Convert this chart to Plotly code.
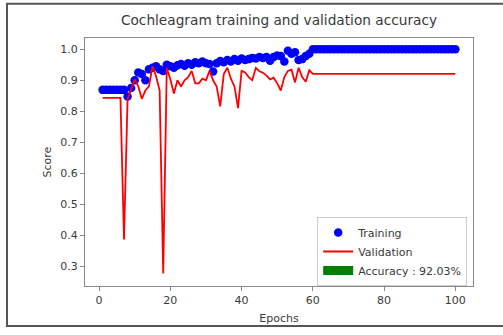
import plotly.graph_objects as go

epochs = list(range(1, 101))

training_acc = (
    [0.869] * 7
    + [0.848, 0.875, 0.900, 0.925, 0.920, 0.900, 0.935, 0.940, 0.945, 0.935,
       0.930, 0.950, 0.945, 0.940, 0.948, 0.952, 0.947, 0.955, 0.950, 0.958,
       0.955, 0.960, 0.955, 0.952, 0.928, 0.955, 0.962, 0.958, 0.965, 0.960,
       0.968, 0.963, 0.970, 0.965, 0.968, 0.972, 0.970, 0.975, 0.972, 0.975,
       0.963, 0.975, 0.980, 0.978, 0.960, 0.995, 0.985, 0.990, 0.965, 0.968,
       0.978, 0.985]
    + [1.0] * 41
)

validation_acc = (
    [0.843] * 6
    + [0.387, 0.840, 0.870, 0.903, 0.880, 0.840, 0.867, 0.880, 0.945, 0.913,
       0.867, 0.278, 0.940, 0.903, 0.857, 0.900, 0.880, 0.900, 0.910, 0.930,
       0.890, 0.890, 0.905, 0.900, 0.930, 0.900, 0.880, 0.816, 0.920, 0.940,
       0.905, 0.880, 0.810, 0.930, 0.925, 0.910, 0.900, 0.940, 0.929, 0.924,
       0.915, 0.903, 0.908, 0.890, 0.867, 0.910, 0.930, 0.934, 0.893, 0.940,
       0.910, 0.895, 0.932]
    + [0.9203] * 41
)

accuracy_label = "Accuracy : 92.03%"
x_ticks = [0, 20, 40, 60, 80, 100]
y_ticks = [0.3, 0.4, 0.5, 0.6, 0.7, 0.8, 0.9, 1.0]

FONT = "DejaVu Sans"
TXT = "#3a3a3a"
AX = "#8a8a8a"

fig = go.Figure()
fig.add_trace(go.Scatter(
    x=epochs, y=training_acc, mode="markers", name="Training",
    marker=dict(color="#0000ff", size=8.5, line=dict(width=0)),
))
fig.add_trace(go.Scatter(
    x=epochs, y=validation_acc, mode="lines", name="Validation",
    line=dict(color="#ff0000", width=1.8),
))
fig.add_trace(go.Scatter(
    x=[None], y=[None], mode="lines", name=accuracy_label,
    line=dict(color="#008000", width=9),
))

fig.update_layout(
    width=503, height=335,
    margin=dict(l=85, r=30, t=38, b=43),
    paper_bgcolor="white", plot_bgcolor="white",
    font=dict(family=FONT, size=11, color=TXT),
    title=dict(text="Cochleagram training and validation accuracy",
               x=(85 + 194) / 503, xanchor="center", y=1 - 20 / 335, yanchor="middle",
               font=dict(family=FONT, size=13.7, color=TXT)),
    showlegend=True,
    legend=dict(x=0.985, y=0.0, xanchor="right", yanchor="bottom",
                bgcolor="white", bordercolor="#cccccc", borderwidth=1,
                font=dict(family=FONT, size=11, color=TXT)),
    shapes=[dict(type="rect", xref="paper", yref="paper",
                 x0=-0.201, x1=1.12, y0=-0.161, y1=1.138,
                 line=dict(color="#555555", width=2), fillcolor="rgba(0,0,0,0)",
                 layer="below")],
)
fig.update_xaxes(
    range=[-3.95, 104.95], tickvals=x_ticks, showgrid=False, zeroline=False,
    showline=True, mirror=True, linecolor=AX, linewidth=1,
    ticks="outside", ticklen=4, tickcolor=AX,
    tickfont=dict(family=FONT, size=11, color=TXT),
    title=dict(text="Epochs", font=dict(family=FONT, size=11, color=TXT), standoff=8),
)
fig.update_yaxes(
    range=[0.2375, 1.036], tickvals=y_ticks, tickformat=".1f", showgrid=False, zeroline=False,
    showline=True, mirror=True, linecolor=AX, linewidth=1,
    ticks="outside", ticklen=4, tickcolor=AX,
    tickfont=dict(family=FONT, size=11, color=TXT),
    title=dict(text="Score", font=dict(family=FONT, size=11, color=TXT), standoff=6),
)

fig.write_html("out.html")
